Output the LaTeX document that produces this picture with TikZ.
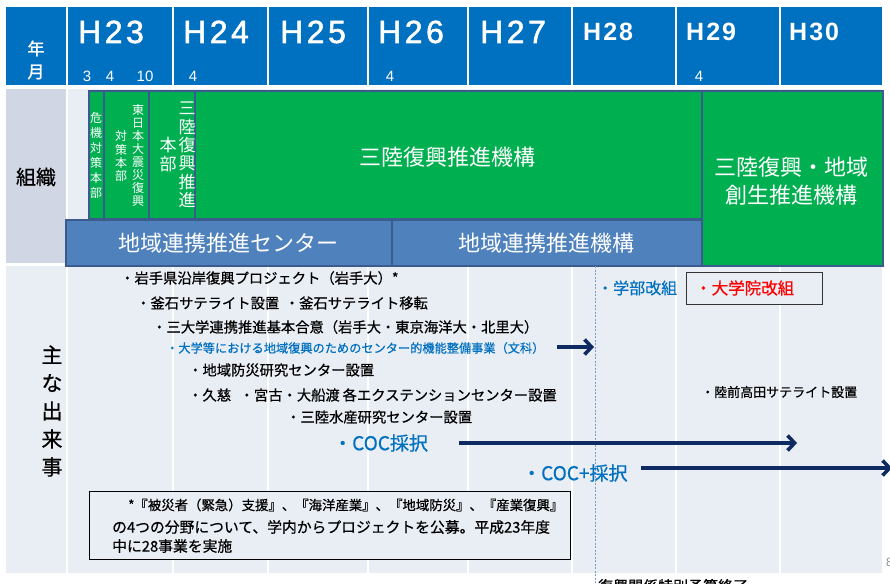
\documentclass[tikz,border=0pt]{standalone}
\usepackage{fontspec}
\setmainfont{Noto Sans CJK JP}
\newfontfamily\latinf{Liberation Sans}
\newfontfamily\latinfb{Liberation Sans}[FakeBold=1.6]
\newfontfamily\jpbold{Noto Sans CJK JP}[FakeBold=1.5]
\newfontfamily\jpmed{Noto Sans CJK JP}[FakeBold=0.6]
\usetikzlibrary{arrows.meta}
\definecolor{hdr}{HTML}{0070C0}
\definecolor{grn}{HTML}{00B050}
\definecolor{bbox}{HTML}{4F81BD}
\definecolor{bord}{HTML}{3B5B8E}
\definecolor{lab}{HTML}{D0D6E4}
\definecolor{bgc}{HTML}{E9EDF4}
\definecolor{navy}{HTML}{0F2A60}
\definecolor{tblue}{HTML}{0070C0}
\definecolor{dline}{HTML}{7F9CC8}
\newcommand{\myfs}[2]{\fontsize{#1}{#2}\selectfont}
\tikzset{
  gbox/.style={draw=bord, fill=grn, line width=1.8pt, inner sep=0pt, anchor=north west},
  bluebox/.style={draw=bord, fill=bbox, line width=1.8pt, inner sep=0pt, anchor=north west, text=white, font=\myfs{22}{26}},
  vt/.style={text=white, align=center, inner sep=0pt},
  bigw/.style={text=white, align=center, inner sep=0pt, font=\myfs{22}{28}},
  yrreg/.style={text=white, inner sep=0pt, anchor=base west, font=\latinfb\myfs{32}{32}},
  yrbold/.style={text=white, inner sep=0pt, anchor=base west, font=\latinf\bfseries\myfs{25}{25}},
  mon/.style={text=white, inner sep=0pt, anchor=base, font=\latinf\myfs{15}{15}},
  ev/.style={inner sep=0pt, anchor=west, font=\jpmed\myfs{14.3}{16}},
  evs/.style={inner sep=0pt, anchor=west, font=\jpmed\myfs{13}{15}},
  evblue/.style={inner sep=0pt, anchor=west, text=tblue},
  arr/.style={draw=navy, line width=3.6pt, -{Straight Barb[length=7pt,width=15pt]}},
  grid/.style={white, line width=1.5pt},
}
\begin{document}
\begin{tikzpicture}[x=1pt,y=-1pt]
\useasboundingbox (0,0) rectangle (890,583);
\fill[white] (0,0) rectangle (890,583);
% header band
\fill[hdr] (6,7) rectangle (882,85);
\foreach \xx in {67,173,268,368,468,572,676,780} \draw[grid] (\xx,7) -- (\xx,85);
% row backgrounds
\fill[lab] (6,89) rectangle (67,263);
\fill[bgc] (67,89) rectangle (882,263);
\fill[bgc] (6,266) rectangle (882,573);
\foreach \xx in {67,173,268,368,468,572,676,780} \draw[grid] (\xx,89) -- (\xx,573);
% header texts
\node[text=white, inner sep=0pt, align=center, font=\jpbold\myfs{17}{23}] (nengetsu) at (36,60) {年\\月};
\node[yrreg] (h23) at (78,43) {H\kern3.5pt 2\kern3.5pt 3};
\node[yrreg] (h24) at (183,43) {H\kern3.5pt 2\kern3.5pt 4};
\node[yrreg] (h25) at (280,43) {H\kern3.5pt 2\kern3.5pt 5};
\node[yrreg] (h26) at (378,43) {H\kern3.5pt 2\kern3.5pt 6};
\node[yrreg] (h27) at (480,43) {H\kern3.5pt 2\kern3.5pt 7};
\node[yrbold] (h28) at (583,41) {H\kern2pt 2\kern2pt 8};
\node[yrbold] (h29) at (686,41) {H\kern2pt 2\kern2pt 9};
\node[yrbold] (h30) at (789,41) {H\kern2pt 3\kern2pt 0};
\node[mon] (m3) at (87,81.5) {3};
\node[mon] (m4a) at (110,81.5) {4};
\node[mon] (m10) at (145,81.5) {10};
\node[mon] (m4b) at (193,81.5) {4};
\node[mon] (m4c) at (390,81.5) {4};
\node[mon] (m4d) at (699,81.5) {4};
% row labels
\node[inner sep=0pt, font=\jpmed\myfs{20}{20}] (soshiki) at (36,177) {組織};
\node[inner sep=0pt, align=center, font=\jpmed\myfs{21}{28}] (dekigoto) at (52,411) {主\\な\\出\\来\\事};
% organisation boxes
\node[gbox, minimum width=15, minimum height=128] (kiki) at (88,90) {};
\node[gbox, minimum width=45, minimum height=128] (higashi) at (103,90) {};
\node[gbox, minimum width=46, minimum height=128] (honbu) at (148,90) {};
\node[gbox, minimum width=507, minimum height=128] (kikou) at (194,90) {};
\node[bluebox, minimum width=326, minimum height=46] (center) at (65,219) {地域連携推進センター};
\node[bluebox, minimum width=310, minimum height=46] (renkei) at (391,219) {地域連携推進機構};
\node[gbox, minimum width=181, minimum height=175] (sousei) at (701,90) {};
\node[vt, font=\myfs{12}{15}] (kikit) at (96,155) {危\\機\\対\\策\\本\\部};
\node[vt, font=\myfs{12}{13.1}] (higashit) at (138,155.5) {東\\日\\本\\大\\震\\災\\復\\興};
\node[vt, font=\myfs{12}{13.1}] (taisakut) at (121,156) {対\\策\\本\\部};
\node[vt, font=\myfs{17}{18.3}] (sanrikut) at (187,155) {三\\陸\\復\\興\\推\\進};
\node[vt, font=\myfs{17}{19}] (honbut) at (168,155) {本\\部};
\node[bigw] (kikout) at (447.5,157.5) {三陸復興推進機構};
\node[bigw] (souseit) at (791.5,181) {三陸復興・地域\\創生推進機構};
% timeline divider
\draw[dline, line width=0.8pt, dash pattern=on 2pt off 1.5pt] (595,266) -- (595,583);
% events
\node[ev] (iwate) at (120,278) {・岩手県沿岸復興プロジェクト（岩手大）*};
\node[ev] (kamaishi) at (136,303) {・釜石サテライト設置\hspace{0.4em}・釜石サテライト移転};
\node[ev] (sandai) at (152,327) {・三大学連携推進基本合意（岩手大・東京海洋大・北里大）};
\node[evblue, font=\jpmed\myfs{12.2}{14}] (bunka) at (166,348) {・大学等における地域復興のためのセンター的機能整備事業（文科）};
\coordinate (a1s) at (557,347);
\coordinate (a1e) at (594,347);
\draw[arr] (a1s) -- (a1e);
\node[ev] (bousai) at (188,370) {・地域防災研究センター設置};
\node[ev] (ext) at (188,395) {・久慈\hspace{0.6em}・宮古・大船渡\hspace{0.2em}各エクステンションセンター設置};
\node[ev] (suisan) at (286,417) {・三陸水産研究センター設置};
\node[evs] (rikuzen) at (701,392) {・陸前高田サテライト設置};
\node[evblue, font=\jpmed\myfs{16}{18}] (gakubu) at (597,288) {・学部改組};
\node[draw=black!80, line width=1pt, fill=bgc, anchor=north west, minimum width=136, minimum height=32, inner sep=0pt] (inbox) at (686,272) {};
\node[inner sep=0pt, anchor=west, text=red, font=\jpmed\myfs{16.5}{18}] (daigakuin) at (695,288) {・大学院改組};
\node[evblue, font=\jpmed\myfs{19}{21}] (coc) at (333,443) {・COC採択};
\coordinate (a2s) at (459,443);
\coordinate (a2e) at (797,443);
\draw[arr] (a2s) -- (a2e);
\node[evblue, font=\jpmed\myfs{19}{21}] (cocp) at (522,473) {・COC+採択};
\coordinate (a3s) at (641,468);
\coordinate (a3e) at (892,468);
\draw[arr] (a3s) -- (a3e);
% note box
\node[draw=black, line width=1.2pt, fill=bgc, anchor=north west, minimum width=481, minimum height=68, inner sep=0pt] (note) at (89,491) {};
\node[inner sep=0pt, anchor=west, font=\jpmed\myfs{13.4}{15}] (note1) at (128,505) {*『被災者（緊急）支援』、『海洋産業』、『地域防災』、『産業復興』};
\node[inner sep=0pt, anchor=west, font=\jpmed\myfs{14.8}{16}] (note2) at (112,527) {の4つの分野について、学内からプロジェクトを公募。平成23年度};
\node[inner sep=0pt, anchor=west, font=\jpmed\myfs{14.8}{16}] (note3) at (112,546) {中に28事業を実施};
% cut-off footer texts (cut at the lower and right edges, as in the reference)
\node[inner sep=0pt, anchor=west, font=\jpmed\myfs{15}{17}] (yosan) at (598,586) {復興関係特別予算終了};
\node[inner sep=0pt, anchor=west, text=black!45, font=\latinf\myfs{12}{12}] (pnum) at (886,562) {8};
\end{tikzpicture}
\end{document}
